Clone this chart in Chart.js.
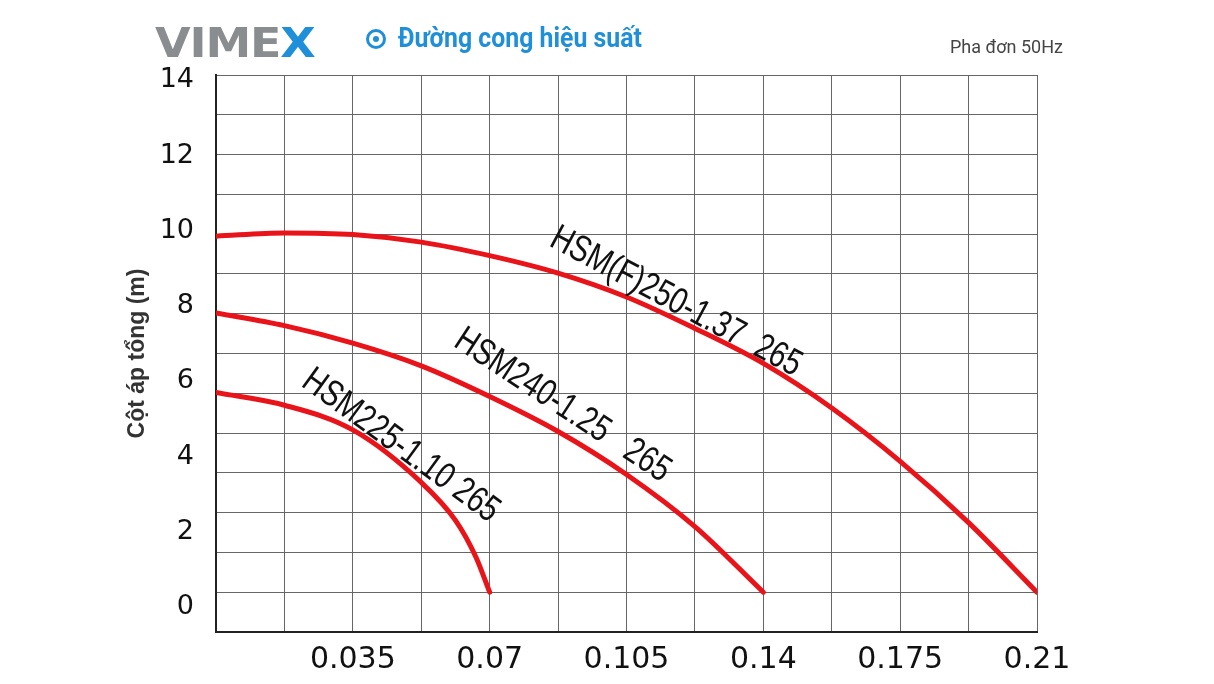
<!DOCTYPE html>
<html><head><meta charset="utf-8">
<script src="https://cdn.jsdelivr.net/npm/chart.js@4/dist/chart.umd.min.js"></script>
<style>
body{margin:0;background:#fff;width:1214px;height:684px;overflow:hidden;position:relative;font-family:"Liberation Sans",sans-serif}
#c{position:absolute;left:0;top:0}
.logo{position:absolute;left:155px;top:20px;font:900 40px "DejaVu Sans";color:#8a8d90;letter-spacing:-1px;transform:scaleX(1.15);transform-origin:left}
.logo b{color:#1e8fd8}
.ttl{position:absolute;left:398px;top:22px;font:bold 27px "Roboto";color:#1e8fd8;transform:scaleX(0.92);transform-origin:left}
.dot{position:absolute;left:366px;top:29px;width:20px;height:20px;border:3px solid #1e8fd8;border-radius:50%;box-sizing:border-box}
.dot:after{content:"";position:absolute;left:4px;top:4px;width:6px;height:6px;background:#1e8fd8;border-radius:50%}
.pha{position:absolute;left:950px;top:36px;font:18px "Roboto";color:#444}
</style></head><body>
<canvas id="c" width="1214" height="684"></canvas>
<div class="logo">VIME<b>X</b></div>
<div class="dot"></div><div class="ttl">Đường cong hiệu suất</div>
<div class="pha">Pha đơn 50Hz</div>
<script>
const flowTicks=[0,0.0175,0.035,0.0525,0.07,0.0875,0.105,0.1225,0.14,0.1575,0.175,0.1925,0.21];
const headLabels=[0,2,4,6,8,10,12,14];
const s250x=[0,0.0175,0.035,0.0525,0.07,0.0875,0.105,0.1225,0.14,0.1575,0.175,0.1925,0.21];
const s250y=[8.95,9.03,8.99,8.8,8.46,8.02,7.42,6.63,5.75,4.63,3.29,1.75,0];
const s240x=[0,0.0175,0.035,0.0525,0.07,0.0875,0.105,0.1225,0.14];
const s240y=[7.02,6.7,6.26,5.69,4.92,4.04,2.96,1.65,0];
const s225x=[0,0.0175,0.035,0.0525,0.0613,0.0665,0.07];
const s225y=[5.02,4.7,4.08,2.76,1.8,0.88,0];
const names=["HSM(F)250-1.37  265","HSM240-1.25   265","HSM225-1.10 265"];
const pts=(xs,ys)=>xs.map((x,i)=>({x,y:ys[i]}));
const labelPlug={id:'lbl',afterDatasetsDraw(ch){
  const c=ch.ctx,x=ch.scales.x,y=ch.scales.y;
  const L=[[names[0],0.0849,8.72,0.49],[names[1],0.0604,6.2,0.58],[names[2],0.0215,5.2,0.63]];
  c.save();c.fillStyle='#111';c.font='37px "Liberation Sans"';
  L.forEach(([t,vx,vy,a])=>{c.save();c.translate(x.getPixelForValue(vx),y.getPixelForValue(vy));c.rotate(a);c.scale(0.78,1);c.fillText(t,0,0);c.restore();});
  c.restore();}};
new Chart(document.getElementById('c'),{type:'scatter',
data:{datasets:[[s250x,s250y],[s240x,s240y],[s225x,s225y]].map(d=>({data:pts(d[0],d[1]),showLine:true,borderColor:'#e8141a',borderWidth:5,pointRadius:0,cubicInterpolationMode:'monotone',borderCapStyle:'round'}))},
options:{responsive:false,animation:false,devicePixelRatio:1,
layout:{padding:{top:75,right:177,left:124,bottom:0}},
plugins:{legend:{display:false},tooltip:{enabled:false}},
scales:{
x:{type:'linear',min:0,max:0.21,afterBuildTicks(s){s.ticks=flowTicks.map(v=>({value:v}));},
  afterFit(s){s.height=52;},
  grid:{color:'#666',lineWidth:1,drawTicks:false},border:{color:'#222',width:2},
  ticks:{padding:10,color:'#111',font:{size:30,family:'"DejaVu Sans"'},autoSkip:false,maxRotation:0,
   callback:(v,i)=>(i%2===0&&i>0)?String(+v.toFixed(4)):''}},
y:{type:'linear',min:-1,max:13,afterBuildTicks(s){s.ticks=[];for(let v=-1;v<=13;v++)s.ticks.push({value:v});},
  afterFit(s){s.width=0;},ticks:{display:false},grid:{color:'#666',drawTicks:false},border:{color:'#222',width:2}},
yl:{type:'linear',position:'left',min:-0.66,max:14.14,afterBuildTicks(s){s.ticks=headLabels.map(v=>({value:v}));},
  afterFit(s){s.width=92;},grid:{display:false},border:{display:false},
  ticks:{color:'#111',padding:14,font:{size:27,family:'"DejaVu Sans"'}},
  title:{display:true,text:'Cột áp tổng (m)',color:'#333',font:{size:23,weight:'bold',family:'"Liberation Sans"'},padding:{top:0,bottom:0}}}
}},plugins:[labelPlug]});
</script></body></html>
